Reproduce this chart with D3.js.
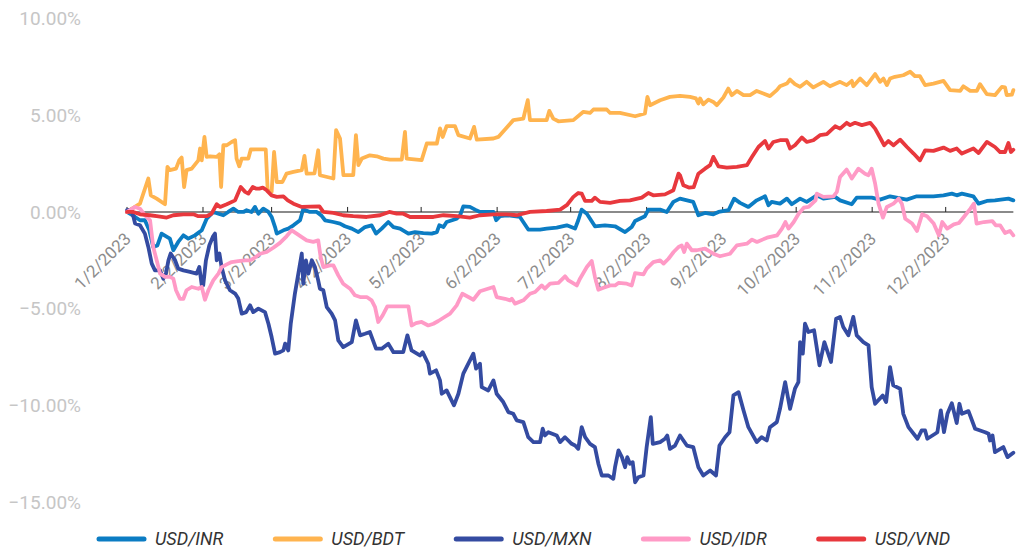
<!DOCTYPE html>
<html>
<head>
<meta charset="utf-8">
<script src="https://cdn.jsdelivr.net/npm/d3@7"></script>
<style>
    html, body { margin: 0; padding: 0; background: #fff; }
    svg { display: block; }
</style>
</head>
<body>
<svg id="chart" width="1018" height="549"></svg>
<script>
'use strict';

// Series names (legend order = draw order)
const seriesNames = ['USD/INR', 'USD/BDT', 'USD/MXN', 'USD/IDR', 'USD/VND'];
const seriesColors = ['#0b7cc3', '#ffb44f', '#344ba1', '#ff9ac6', '#e8383d'];

// Month tick labels
const tickLabels = ['1/2/2023', '2/2/2023', '3/2/2023', '4/2/2023', '5/2/2023', '6/2/2023',
    '7/2/2023', '8/2/2023', '9/2/2023', '10/2/2023', '11/2/2023', '12/2/2023'];
const yTicks = [10, 5, 0, -5, -10, -15];

// [days since 1/2/2023, % change]
const usdInr = [[0,0],[3.3,-0.26],[5.3,-0.43],[7.3,-0.43],[9.1,-0.95],[10.7,-1.81],[12.4,-1.73],[14.1,-1.12],[17.5,-1.38],[18.9,-1.98],[20.9,-1.55],[23,-1.21],[25,-1.38],[27.7,-1.21],[30.5,-0.95],[32.5,-0.35],[35.2,0],[37.3,-0.09],[39.3,-0.17],[41.3,0],[43.4,0.17],[45.4,0],[47.5,0],[48.8,0.09],[50.8,0],[52.2,0.26],[53.6,-0.09],[55.6,0.17],[57.7,0],[59,-0.26],[60.4,-0.78],[61.1,-1.12],[63.8,-0.95],[65.8,-0.86],[67.9,-0.69],[70.6,-0.43],[71.9,0.15],[72.6,0.1],[74.6,0],[77.4,0],[79.4,-0.2],[80.8,-0.43],[84.2,-0.52],[86.9,-0.6],[88.9,-0.74],[91.7,-0.86],[94.4,-1.04],[97.1,-0.78],[99.8,-0.69],[101.6,-1.12],[103.9,-0.86],[106.6,-0.52],[108.7,-0.78],[111.4,-0.86],[114.8,-1.12],[117.5,-1.04],[120.9,-1.09],[124.3,-1.12],[126.4,-1.04],[127.4,-0.69],[129.1,-0.78],[130.4,-0.52],[134.5,-0.35],[135.9,-0.17],[137.2,0.29],[139.9,0.26],[142,0.12],[144,0],[149.5,0],[150.6,-0.43],[152.2,-0.22],[154.9,-0.17],[160.3,-0.26],[163.7,-0.91],[168.5,-0.91],[171.2,-0.86],[175.3,-0.81],[179.4,-0.69],[182.8,-0.86],[184.1,-0.43],[185.5,0.12],[187.6,-0.09],[190.9,-0.74],[195,-0.69],[199.1,-0.74],[203.2,-1.04],[205.9,-0.78],[207.3,-0.47],[211.3,-0.22],[212.7,0.12],[217.5,0.12],[220.2,0],[222.9,0.52],[225.6,0.69],[231,0.52],[233.1,-0.17],[235.8,-0.05],[239.2,-0.12],[241.3,0],[245.4,0.09],[247.7,0.69],[250.1,0.47],[253.5,0.26],[256.9,0.6],[260.3,0.81],[261.7,0.35],[263,0.52],[266.4,0.43],[269.2,0.69],[271.2,0.4],[274.6,0.69],[277.3,0.52],[281.4,0.86],[284.1,0.69],[288.9,0.78],[290.9,0.6],[295.7,0.4],[297.7,0.74],[303.8,0.74],[307.2,0.64],[311.3,0.81],[318.1,0.64],[322.2,0.81],[329,0.81],[333.1,0.86],[336.5,0.95],[338.5,0.86],[340.6,0.95],[345.3,0.81],[347.4,0.43],[350.8,0.57],[354.1,0.6],[359.6,0.69],[361.6,0.6]];

const usdBdt = [[0,0],[5.3,0.43],[8.7,1.73],[9.7,0.86],[12.1,0.69],[15.5,0.4],[16.5,2.33],[17.5,2.16],[20,2.24],[21.3,2.67],[22.3,2.81],[23.3,1.29],[24.3,2.16],[26.4,2.24],[29.1,2.67],[29.8,3.28],[30.5,2.67],[31.6,3.88],[32.5,2.85],[33.9,2.88],[36.6,2.85],[37.7,2.98],[38.4,1.29],[39.3,3.45],[40.7,3.45],[42.7,3.62],[44.1,3.71],[44.7,2.76],[45.8,2.36],[46.8,2.76],[49.5,2.76],[50.5,3.23],[52.9,3.24],[56.6,3.24],[57.4,1.12],[59,1.04],[60,3.1],[61.1,1.55],[63.4,1.55],[65.1,1.98],[67.9,2.07],[71.3,2.16],[72.4,2.9],[73.3,1.98],[76.5,2.0],[78,3.19],[78.7,1.9],[84.2,1.73],[85.3,4.23],[86.9,3.8],[88.3,1.9],[92.3,1.9],[93.4,3.97],[94.4,2.42],[95.8,2.76],[99.1,2.93],[101.9,2.88],[104.6,2.76],[107.3,2.71],[112.1,2.71],[113.4,4.14],[114.1,2.76],[120.2,2.68],[122.3,3.54],[126.4,3.54],[127.7,4.32],[128.8,3.88],[130.4,4.44],[133.8,4.44],[135.2,3.97],[139.9,3.8],[141.6,4.4],[142.7,3.74],[149.5,3.8],[151.5,3.88],[157.6,4.75],[161.7,4.83],[163.5,5.78],[164.4,4.75],[171.2,4.75],[172.3,5.23],[173.9,4.83],[176,4.69],[182.1,4.75],[186.2,5.18],[188.9,5.12],[190.3,5.3],[195.7,5.3],[197.1,5.12],[201.1,5.12],[207.3,4.95],[211.3,5.09],[212.3,5.95],[213.4,5.52],[217.5,5.78],[221.5,5.95],[225.6,6.0],[229.7,5.95],[232.1,5.87],[233.1,5.61],[233.8,5.87],[235.1,5.57],[237.2,5.81],[239.2,5.69],[240.6,5.52],[243.3,5.92],[245.3,6.38],[246.7,6.04],[248.8,6.26],[251.5,6.04],[254.2,6.04],[256.9,6.26],[262.3,5.99],[265.1,6.3],[266.4,6.5],[269.2,6.64],[270.5,6.85],[272.5,6.61],[274.6,6.47],[277.3,6.73],[280,6.44],[284.1,6.73],[286.8,6.5],[290.9,6.73],[293.6,6.56],[295.7,6.78],[296.3,6.5],[299.1,6.9],[301.8,6.56],[305.2,7.13],[307.2,6.73],[308.6,6.9],[310,6.56],[311.3,6.9],[313.3,6.99],[316.7,7.07],[319.5,7.25],[321.5,7.02],[323.5,7.02],[325.6,6.56],[329,6.64],[333.1,6.78],[335.8,6.3],[339.9,6.26],[341.2,6.5],[344,6.26],[346.7,6.26],[348,6.61],[350.8,6.09],[354.1,6.04],[356.9,6.47],[358.2,6.44],[358.9,6.04],[361,6.07],[361.6,6.3]];

const usdMxn = [[0,0.1],[1.9,0.12],[3.3,-0.6],[5.3,-0.69],[7.3,-1.12],[8.7,-1.81],[10.1,-2.67],[11.4,-3.02],[13.5,-3.02],[14.8,-3.45],[15.9,-3.19],[16.9,-2.5],[17.8,-2.15],[19.6,-2.5],[20.9,-2.93],[23,-3.02],[25.7,-3.1],[28.4,-3.19],[29.5,-2.85],[30.5,-3.79],[31.1,-3.79],[32.2,-2.5],[33.6,-1.72],[35,-1.29],[35.9,-1.12],[36.6,-2.5],[37.7,-2.15],[38.6,-2.85],[40,-3.54],[42,-4.05],[44.1,-4.22],[45.4,-4.48],[46.8,-5.26],[48.6,-5.18],[50.2,-4.83],[51.5,-5.18],[53.6,-5.0],[56.3,-5.18],[57.7,-5.78],[59,-6.47],[60.4,-7.33],[62.4,-7.25],[63.8,-7.16],[64.5,-6.81],[65.8,-7.16],[66.8,-5.78],[68.5,-4.22],[69.9,-3.19],[71.3,-2.15],[71.9,-3.71],[73,-2.5],[74,-3.19],[75.4,-2.5],[76.7,-2.85],[78,-3.54],[78.7,-3.97],[80.1,-4.05],[81.5,-4.92],[83.5,-5.26],[84.9,-5.61],[86.2,-6.64],[88.2,-6.99],[91.7,-6.73],[93.4,-5.61],[95.1,-6.38],[97.1,-6.3],[99.1,-6.21],[101.6,-7.07],[103.9,-7.07],[106.6,-6.81],[108.7,-7.25],[112.7,-7.25],[114.4,-6.38],[116.1,-7.16],[119.5,-7.42],[120.6,-7.25],[122.9,-7.85],[123.6,-8.36],[126.1,-8.19],[127.7,-8.71],[128.4,-9.4],[130.4,-9.23],[133.4,-10.0],[135.2,-9.4],[137.2,-8.36],[141.3,-7.33],[142.4,-8.1],[144,-7.85],[144.7,-9.06],[147.4,-9.23],[149.5,-8.71],[150.8,-9.4],[153.5,-9.83],[155.6,-10.35],[157.6,-10.44],[159,-10.78],[161.7,-10.87],[163.7,-11.65],[165.8,-11.9],[168.5,-11.9],[169.6,-11.21],[170.5,-11.56],[171.9,-11.39],[175.3,-11.56],[176.7,-11.9],[178.7,-11.65],[181.4,-11.99],[182.8,-12.08],[184.1,-12.25],[185.5,-11.13],[186.9,-11.65],[188.9,-11.99],[190.9,-12.16],[192.3,-13.02],[193.7,-13.63],[196.4,-13.63],[198.4,-13.8],[199.1,-13.2],[200.5,-12.33],[201.9,-12.68],[203.2,-13.2],[204.1,-12.68],[205.2,-13.02],[206.3,-12.94],[207.3,-13.98],[208.6,-13.72],[210.7,-13.63],[212,-12.16],[213.7,-10.61],[214.5,-11.99],[217.5,-11.9],[219.5,-11.73],[220.4,-11.56],[221.5,-12.25],[223.6,-12.08],[225.6,-11.56],[228.4,-12.08],[231,-12.16],[233.1,-13.2],[235.1,-13.63],[237.9,-13.37],[240.3,-13.63],[241.7,-12.08],[244,-11.65],[245.8,-11.39],[247.4,-9.49],[249.5,-9.32],[251.5,-10.26],[253.5,-11.13],[256.9,-11.9],[258.9,-11.65],[261,-11.82],[262.3,-11.13],[265.1,-10.87],[266.4,-10.18],[268.5,-8.8],[270.5,-10.18],[272.5,-9.14],[273.9,-8.8],[274.6,-6.73],[275.7,-7.33],[276.6,-5.78],[278,-6.21],[280.3,-6.12],[282.5,-7.93],[284.5,-6.73],[287.2,-7.76],[289.3,-5.52],[290.9,-5.43],[292.2,-5.95],[294.3,-6.38],[296.3,-5.43],[297.7,-6.38],[300.4,-6.73],[302.5,-6.9],[303.8,-9.06],[305.2,-9.92],[308.3,-9.49],[309.7,-9.83],[311.3,-8.02],[312.6,-8.97],[315.4,-9.14],[316.7,-10.44],[318.8,-11.13],[322.5,-11.73],[324.2,-11.3],[325.6,-11.3],[326.5,-11.73],[329.7,-11.47],[330.6,-11.39],[332,-10.26],[333.3,-11.39],[334.7,-10.44],[336.5,-9.89],[338.5,-10.92],[339.6,-9.92],[340.6,-10.44],[343.3,-10.3],[346,-11.21],[350.1,-11.39],[351.5,-11.47],[352.1,-11.82],[353.1,-11.56],[354.1,-12.42],[357.5,-12.16],[359.2,-12.68],[361.6,-12.45]];

const usdIdr = [[0,0],[3.3,0.26],[5.3,0.17],[7.3,-0.17],[9.4,-0.43],[10.7,-1.81],[12.1,-2.5],[13.5,-3.19],[15.5,-3.36],[17.5,-3.36],[18.9,-3.45],[20,-4.05],[21.6,-4.49],[23,-4.49],[24.3,-4.05],[26.4,-3.88],[29.1,-3.97],[30.5,-3.88],[31.8,-4.54],[33.2,-4.05],[35.2,-3.54],[37.3,-3.19],[38.6,-2.85],[40.7,-2.71],[42.7,-2.59],[45.4,-2.54],[48.2,-2.5],[50.2,-2.5],[52.2,-2.36],[54.3,-2.16],[57,-2.07],[59.7,-1.85],[62.4,-1.6],[65.1,-1.26],[67.2,-0.95],[69.2,-1.12],[71.3,-1.3],[73.3,-1.47],[76,-1.55],[78,-1.47],[79,-2.33],[80.1,-2.85],[82.8,-2.76],[84.2,-2.76],[86.2,-3.28],[88.2,-3.71],[91,-3.97],[93,-4.31],[95.1,-4.4],[97.8,-4.4],[99.8,-4.57],[101.2,-4.92],[102.5,-5.69],[104.3,-5.35],[106.2,-4.88],[110,-4.88],[114.8,-4.88],[116.1,-5.87],[117.9,-5.75],[120.2,-5.69],[122.9,-5.87],[125,-5.78],[127,-5.64],[129.1,-5.47],[131.8,-5.26],[134.5,-4.83],[136.8,-4.23],[139.3,-4.4],[141.3,-4.54],[144,-4.1],[149.5,-3.88],[150.8,-4.4],[154.2,-4.49],[156.3,-4.57],[157,-4.49],[158.3,-4.74],[161.7,-4.57],[164.4,-4.23],[166.5,-4.14],[169.2,-3.8],[170.5,-3.97],[172.6,-3.71],[176,-3.67],[178.7,-3.33],[180.1,-3.54],[183.5,-3.8],[184.8,-3.45],[187.6,-2.85],[189.6,-2.54],[190.9,-3.36],[192.3,-4.02],[194.4,-3.92],[197.1,-3.8],[199.1,-3.8],[200.5,-3.67],[203.9,-3.71],[205.9,-3.8],[207.3,-3.16],[210.7,-3.23],[212,-2.93],[214.7,-2.59],[217.5,-2.5],[218.9,-2.67],[220.9,-2.42],[223,-2.07],[225,-1.81],[226.3,-1.73],[227.3,-2.07],[228.4,-1.64],[230.4,-1.98],[232.4,-1.98],[235.8,-1.9],[239.2,-2.16],[241.9,-2.29],[246,-2.16],[248.8,-1.73],[252.9,-1.64],[255,-1.43],[257,-1.55],[261.1,-1.33],[265.2,-1.21],[267.2,-0.86],[268.6,-0.52],[269.9,-0.86],[272,-0.52],[274,-0.09],[276.1,0.22],[278.1,0.26],[280.9,0.6],[281.4,0.95],[284.1,0.78],[288.2,0.81],[289.6,1.04],[290.9,1.81],[293.6,2.19],[295.7,1.73],[298.4,2.24],[301.1,1.98],[302.5,1.9],[303.8,2.24],[305.2,1.47],[306.6,0.43],[308.4,-0.29],[310,0.26],[312.7,0.43],[314.8,0.69],[316.1,0.43],[317.5,-0.35],[320.3,-0.6],[322.3,-0.98],[324.4,-0.12],[326.4,-0.22],[329.1,-0.6],[331.2,-1.21],[332.6,-0.52],[334.6,-0.86],[337.3,-0.64],[339.4,-0.57],[341.4,-0.26],[344.1,0.17],[345.5,0.43],[346.6,-0.6],[349.6,-0.52],[353,-0.47],[354.4,-0.69],[356.2,-0.69],[358.2,-1.09],[360.2,-0.98],[361.6,-1.21]];

const usdVnd = [[0,0],[2.6,0],[5.3,-0.12],[9.4,-0.17],[12.1,-0.22],[16.2,-0.29],[18.9,-0.17],[23,-0.12],[27.1,-0.12],[29.1,-0.22],[32.5,-0.22],[34.5,-0.09],[36.6,0.4],[38,0.26],[40.7,0.4],[44.1,0.6],[46.4,1.29],[48.2,1.04],[49.5,0.95],[51.3,1.29],[52.6,1.21],[54,1.21],[55.4,1.26],[57,1.12],[59,0.86],[61.1,0.78],[63.8,0.81],[65.6,0.6],[67.9,0.43],[71.3,0.26],[74.7,0.28],[78.5,0.29],[80.1,0],[84.2,-0.05],[88.2,-0.17],[92.3,-0.22],[97.8,-0.26],[103.2,-0.17],[107,0],[110,-0.09],[112.7,-0.09],[115.5,-0.26],[120.9,-0.26],[125,-0.26],[129.1,-0.17],[134.5,-0.22],[139.9,-0.29],[144,-0.17],[149.5,-0.12],[154.9,-0.12],[159,-0.17],[164.4,0],[171.2,0.05],[176.7,0.12],[179.4,0.35],[182.1,0.78],[184.1,0.98],[185.5,0.95],[186.9,0.57],[189.6,0.57],[190.9,0.74],[193,0.52],[197.1,0.47],[201.1,0.57],[205.2,0.6],[210,0.74],[212.7,0.98],[214.7,0.86],[219.5,0.91],[222.9,1.12],[225,1.98],[225.6,1.9],[227,1.38],[229.2,1.26],[231.2,1.29],[233.1,1.98],[235.8,2.24],[237.9,2.42],[239.2,2.85],[241.3,2.36],[244.7,2.29],[248.8,2.33],[252.9,2.42],[255,2.85],[257.6,3.36],[260.3,3.67],[261.7,3.28],[263.7,3.62],[266.4,3.71],[269.2,3.71],[270.5,3.28],[272.5,3.45],[275.3,3.85],[277.3,3.62],[280,3.71],[282.7,3.97],[285.5,4.02],[288.9,4.43],[290.9,4.31],[293.6,4.61],[295,4.49],[297,4.61],[299.8,4.49],[303.2,4.61],[305.2,4.31],[307.2,3.85],[308.9,3.45],[310.6,3.67],[312.7,3.45],[315.4,3.74],[318.2,3.36],[320.9,3.02],[323.5,2.67],[325.6,3.19],[329,3.16],[333.1,3.33],[335.8,3.16],[338.5,3.28],[340.6,3.02],[345.3,3.28],[347.4,3.05],[350.8,3.62],[354.1,3.36],[356.2,3.1],[358.2,3.1],[359.6,3.57],[360.6,3.1],[361.6,3.22]];

// IIFE
(function () {

    const seriesData = [usdInr, usdBdt, usdMxn, usdIdr, usdVnd];

    const svg = d3.select('#chart');
    const parseDate = d3.utcParse('%m/%d/%Y');
    const tickDates = tickLabels.map(parseDate);
    const start = tickDates[0];

    // day offset -> Date
    const toDate = (day) => new Date(start.getTime() + day * 864e5);

    // Scales
    const scX = d3.scaleUtc()
        .domain([tickDates[0], tickDates[11]])
        .range([127, 945.7]);

    const scY = d3.scaleLinear()
        .domain([-15, 10])
        .range([502, 18.6]);

    // Y labels
    svg.append('g')
        .attr('class', 'y axis')
        .selectAll('text')
        .data(yTicks)
        .enter()
        .append('text')
            .attr('x', 81)
            .attr('y', (d) => scY(d))
            .attr('dy', '0.36em')
            .attr('text-anchor', 'end')
            .style('font-family', 'Roboto, sans-serif')
            .style('font-size', '19px')
            .style('fill', '#c6c6c6')
            .text((d) => d3.format('.2f')(d) + '%');

    // Zero line as x-axis
    const lastDay = d3.max(seriesData, (s) => s[s.length - 1][0]);
    svg.append('line')
        .attr('x1', scX(start))
        .attr('x2', scX(toDate(lastDay)))
        .attr('y1', scY(0))
        .attr('y2', scY(0))
        .style('stroke', '#8a8a8a')
        .style('stroke-width', 2);

    const xAxis = svg.append('g')
        .attr('class', 'x axis')
        .attr('transform', `translate(0, ${scY(0)})`);

    xAxis.selectAll('line')
        .data(tickDates)
        .enter()
        .append('line')
            .attr('x1', (d) => scX(d))
            .attr('x2', (d) => scX(d))
            .attr('y1', -5)
            .attr('y2', 0)
            .style('stroke', '#222')
            .style('stroke-width', 1);

    xAxis.selectAll('text')
        .data(tickDates)
        .enter()
        .append('text')
            .attr('transform', (d) => `translate(${scX(d) + 5}, 28) rotate(-45)`)
            .attr('text-anchor', 'end')
            .style('font-family', 'Roboto, sans-serif')
            .style('font-size', '17px')
            .style('fill', '#8c8c8c')
            .text((d, i) => tickLabels[i]);

    // Lines
    const line = d3.line()
        .x((d) => scX(toDate(d[0])))
        .y((d) => scY(d[1]));

    svg.append('g')
        .attr('class', 'lines')
        .selectAll('path')
        .data(seriesData)
        .enter()
        .append('path')
            .attr('d', line)
            .style('fill', 'none')
            .style('stroke', (d, i) => seriesColors[i])
            .style('stroke-width', 3.8)
            .style('stroke-linejoin', 'round')
            .style('stroke-linecap', 'round');

    // Legend
    const legend = svg.append('g')
        .attr('class', 'legend')
        .attr('transform', 'translate(0, 539)');

    let lx = 97;
    seriesNames.forEach((name, i) => {
        legend.append('line')
            .attr('x1', lx + 2)
            .attr('x2', lx + 47)
            .style('stroke', seriesColors[i])
            .style('stroke-width', 5)
            .style('stroke-linecap', 'round');

        const t = legend.append('text')
            .attr('x', lx + 58)
            .attr('y', 6)
            .style('font-family', 'Roboto, sans-serif')
            .style('font-style', 'italic')
            .style('font-size', '18px')
            .style('fill', '#333')
            .text(name);

        lx += 58 + t.node().getComputedTextLength() + 50;
    });

})();
</script>
</body>
</html>
